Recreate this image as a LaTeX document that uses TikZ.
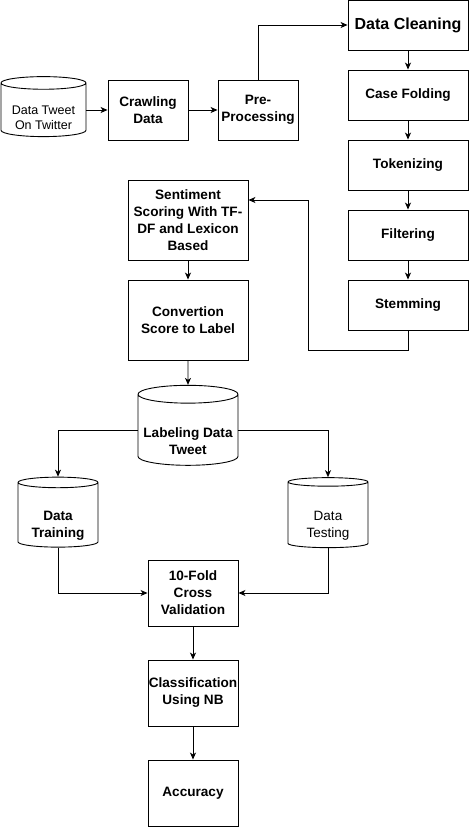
\documentclass[tikz,border=0pt]{standalone}
\usepackage{fontspec}
\setmainfont{Liberation Sans}
\usetikzlibrary{positioning}
\usetikzlibrary{shapes.geometric}
\usetikzlibrary{arrows.meta}
\newcommand{\cyltext}[2][14pt]{\raisebox{-#1}[0pt][0pt]{\begin{tabular}{@{}c@{}}#2\end{tabular}}}

\begin{document}
\begin{tikzpicture}[x=1pt, y=-1pt,
		box style/.style={draw, rectangle, line width=0.9pt, align=center, inner sep=0pt,
			font=\bfseries\fontsize{13.6}{17}\selectfont},
		cyl style/.style={draw, cylinder, shape border rotate=90, aspect=0.2, line width=0.9pt,
			inner sep=0pt, font=\bfseries\fontsize{13.6}{17}\selectfont},
		edge/.style={line width=0.9pt, -{Stealth[length=7pt, width=6pt, inset=2pt]}}
		]
		\useasboundingbox (0,0) rectangle (469,827);
		\node[cyl style, minimum width=85pt, minimum height=60pt, font=\fontsize{12.5}{15}\selectfont] (tweet) at (43.5,110) {\cyltext[12pt]{Data Tweet\\On Twitter}};
		\node[box style, minimum width=80pt, minimum height=60pt] (crawl) at (148,110) {Crawling\\Data};
		\node[box style, minimum width=80pt, minimum height=60pt] (prep) at (258,110) {Pre-\\Processing};
		\node[box style, minimum width=120pt, minimum height=50pt, font=\bfseries\fontsize{16}{19}\selectfont] (clean) at (408,25) {Data Cleaning};
		\node[box style, minimum width=120pt, minimum height=50pt] (fold) at (408,95) {Case Folding};
		\node[box style, minimum width=120pt, minimum height=50pt] (token) at (408,165) {Tokenizing};
		\node[box style, minimum width=120pt, minimum height=50pt] (filter) at (408,235) {Filtering};
		\node[box style, minimum width=120pt, minimum height=50pt] (stem) at (408,305) {Stemming};
		\node[box style, minimum width=120pt, minimum height=80pt] (score) at (188,220) {Sentiment\\Scoring With TF-\\DF and Lexicon\\Based};
		\node[box style, minimum width=120pt, minimum height=80pt] (conv) at (188,320) {Convertion\\Score to Label};
		\node[cyl style, minimum width=100pt, minimum height=80pt] (label) at (188,430) {\cyltext[16pt]{Labeling Data\\Tweet}};
		\node[cyl style, minimum width=80pt, minimum height=70pt] (train) at (58,515) {\cyltext{Data\\Training}};
		\node[cyl style, minimum width=80pt, minimum height=70pt, font=\fontsize{13.5}{17}\selectfont] (test) at (328,515) {\cyltext{Data\\Testing}};
		\node[box style, minimum width=90pt, minimum height=66pt] (kfold) at (193,593) {10-Fold\\Cross\\Validation};
		\node[box style, minimum width=90pt, minimum height=66pt] (nb) at (193,693) {Classification\\Using NB};
		\node[box style, minimum width=90pt, minimum height=66pt] (acc) at (193,793) {Accuracy};
		\coordinate (bend) at (308,350);
		
		\draw[edge] (tweet) -- (crawl);
		\draw[edge] (crawl) -- (prep);
		\draw[edge] (prep.north) |- (clean.west);
		\draw[edge] (clean) -- (fold);
		\draw[edge] (fold) -- (token);
		\draw[edge] (token) -- (filter);
		\draw[edge] (filter) -- (stem);
		\draw[edge] (stem.south) |- (bend) |- ([yshift=20pt]score.east);
		\draw[edge] (score) -- (conv);
		\draw[edge] (conv) -- (label);
		\draw[edge] (label.west) -| (train.north);
		\draw[edge] (label.east) -| (test.north);
		\draw[edge] (train.south) |- (kfold.west);
		\draw[edge] (test.south) |- (kfold.east);
		\draw[edge] (kfold) -- (nb);
		\draw[edge] (nb) -- (acc);
	\end{tikzpicture}
\end{document}
